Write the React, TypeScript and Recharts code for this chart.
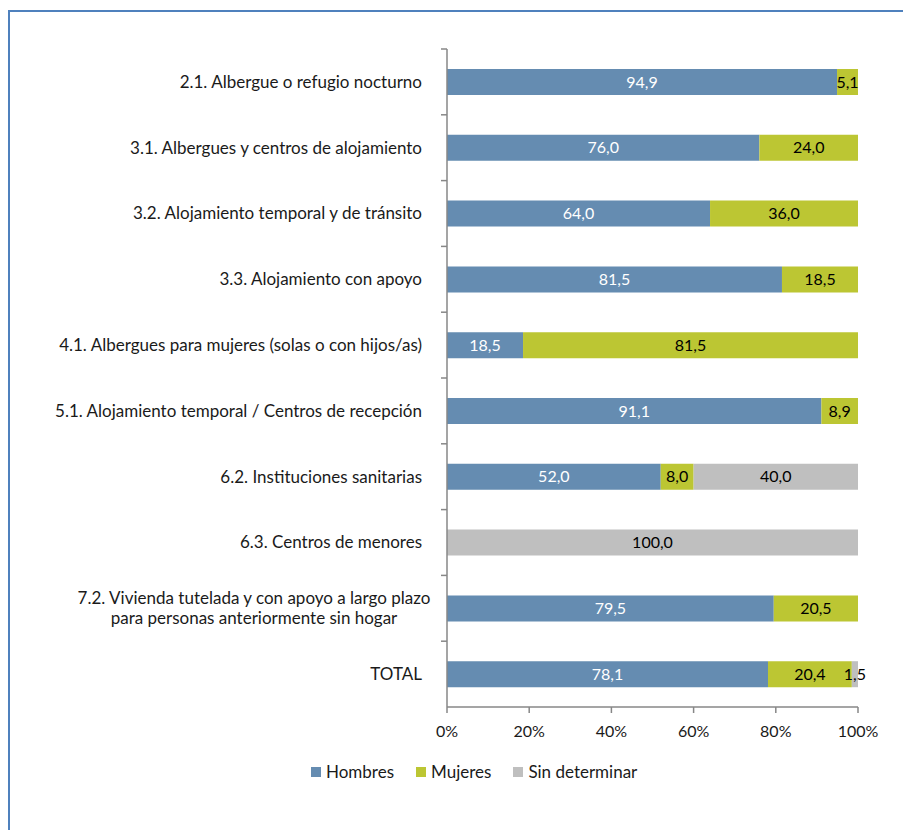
import React from 'react';
import { BarChart, Bar, XAxis, YAxis, LabelList } from 'recharts';

// categorías (de arriba a abajo)
const categories = [
  '2.1. Albergue o refugio nocturno',
  '3.1. Albergues y centros de alojamiento',
  '3.2. Alojamiento temporal y de tránsito',
  '3.3. Alojamiento con apoyo',
  '4.1. Albergues para mujeres (solas o con hijos/as)',
  '5.1. Alojamiento temporal / Centros de recepción',
  '6.2. Instituciones sanitarias',
  '6.3. Centros de menores',
  '7.2. Vivienda tutelada y con apoyo a largo plazo\npara personas anteriormente sin hogar',
  'TOTAL',
];
const hombres = [94.9, 76.0, 64.0, 81.5, 18.5, 91.1, 52.0, null, 79.5, 78.1];
const mujeres = [5.1, 24.0, 36.0, 18.5, 81.5, 8.9, 8.0, null, 20.5, 20.4];
const sinDeterminar = [null, null, null, null, null, null, 40.0, 100.0, null, 1.5];
const xTicks = [0, 20, 40, 60, 80, 100];

const seriesNames = ['Hombres', 'Mujeres', 'Sin determinar'];
const COLORS = ['#658cb1', '#bcc633', '#bfbfbf'];

const data = categories.map((name, i) => ({
  name,
  hombres: hombres[i],
  mujeres: mujeres[i],
  sin: sinDeterminar[i],
}));

const W = 903;
const H = 830;
const PLOT_TOP = 49;
const PLOT_BOTTOM = 707;
const AXIS_X = 447;
const FONT = 'Lato, sans-serif';
const AXIS_COLOR = '#878787';
const BAND = (PLOT_BOTTOM - PLOT_TOP) / categories.length;

const fmt = (v: any) => (v == null ? '' : Number(v).toFixed(1).replace('.', ','));

function CategoryTick(props: any) {
  const { y, payload } = props;
  const lines: string[] = String(payload.value).split('\n');
  const right = AXIS_X - 25;
  const lineH = 20;
  const y0 = y - ((lines.length - 1) * lineH) / 2;
  // centro aproximado del texto largo para centrar las líneas
  const approxW = Math.max(...lines.map((l) => l.length)) * 7.0;
  return (
    <g>
      <line x1={AXIS_X - 6} x2={AXIS_X} y1={y - BAND / 2} y2={y - BAND / 2} stroke={AXIS_COLOR} strokeWidth={1.5} />
      {lines.map((l, k) => (
        <text
          key={k}
          x={lines.length > 1 ? right - approxW / 2 : right}
          y={y0 + k * lineH}
          dy="0.35em"
          textAnchor={lines.length > 1 ? 'middle' : 'end'}
          fontFamily={FONT}
          fontSize={17}
          fill="#1a1a1a"
        >
          {l}
        </text>
      ))}
    </g>
  );
}

export default function App() {
  return (
    <div style={{ position: 'absolute', left: 0, top: 0, width: W, height: H, overflow: 'hidden', background: '#fff' }}>
      <div
        style={{
          position: 'absolute',
          left: 8,
          top: 10,
          width: 1000,
          height: 1000,
          borderLeft: '2px solid #4f81bd',
          borderTop: '2px solid #4f81bd',
        }}
      />
      <div style={{ position: 'absolute', left: 0, top: 0 }}>
        <BarChart
          width={W}
          height={H}
          data={data}
          layout="vertical"
          barSize={26}
          margin={{ top: PLOT_TOP, right: W - 858, left: 0, bottom: H - PLOT_BOTTOM - 30 }}
        >
          <XAxis
            type="number"
            domain={[0, 100]}
            ticks={xTicks}
            tickFormatter={(v) => `${v}%`}
            height={30}
            axisLine={{ stroke: AXIS_COLOR, strokeWidth: 1.5 }}
            tickLine={{ stroke: AXIS_COLOR, strokeWidth: 1.5 }}
            tickSize={6}
            tickMargin={13}
            tick={{ fontFamily: FONT, fontSize: 16, fill: '#1a1a1a' }}
            interval={0}
          />
          <YAxis
            type="category"
            dataKey="name"
            width={AXIS_X}
            axisLine={{ stroke: AXIS_COLOR, strokeWidth: 1.5 }}
            tickLine={false}
            tick={<CategoryTick />}
            interval={0}
          />
          <Bar dataKey="hombres" name={seriesNames[0]} stackId="a" fill={COLORS[0]} isAnimationActive={false}>
            <LabelList dataKey="hombres" position="center" formatter={fmt} fill="#ffffff" fontFamily={FONT} fontSize={16} />
          </Bar>
          <Bar dataKey="mujeres" name={seriesNames[1]} stackId="a" fill={COLORS[1]} isAnimationActive={false}>
            <LabelList dataKey="mujeres" position="center" formatter={fmt} fill="#000000" fontFamily={FONT} fontSize={16} />
          </Bar>
          <Bar dataKey="sin" name={seriesNames[2]} stackId="a" fill={COLORS[2]} isAnimationActive={false}>
            <LabelList dataKey="sin" position="center" formatter={fmt} fill="#000000" fontFamily={FONT} fontSize={16} />
          </Bar>
        </BarChart>
      </div>
      <div
        style={{
          position: 'absolute',
          top: 761,
          left: 311,
          display: 'flex',
          alignItems: 'center',
          fontFamily: FONT,
          fontSize: 17,
          color: '#1a1a1a',
          whiteSpace: 'nowrap',
        }}
      >
        {seriesNames.map((n, i) => (
          <div key={n} style={{ display: 'flex', alignItems: 'center', marginRight: 22 }}>
            <span style={{ display: 'inline-block', width: 10, height: 10, background: COLORS[i], marginRight: 5 }} />
            <span>{n}</span>
          </div>
        ))}
      </div>
    </div>
  );
}
